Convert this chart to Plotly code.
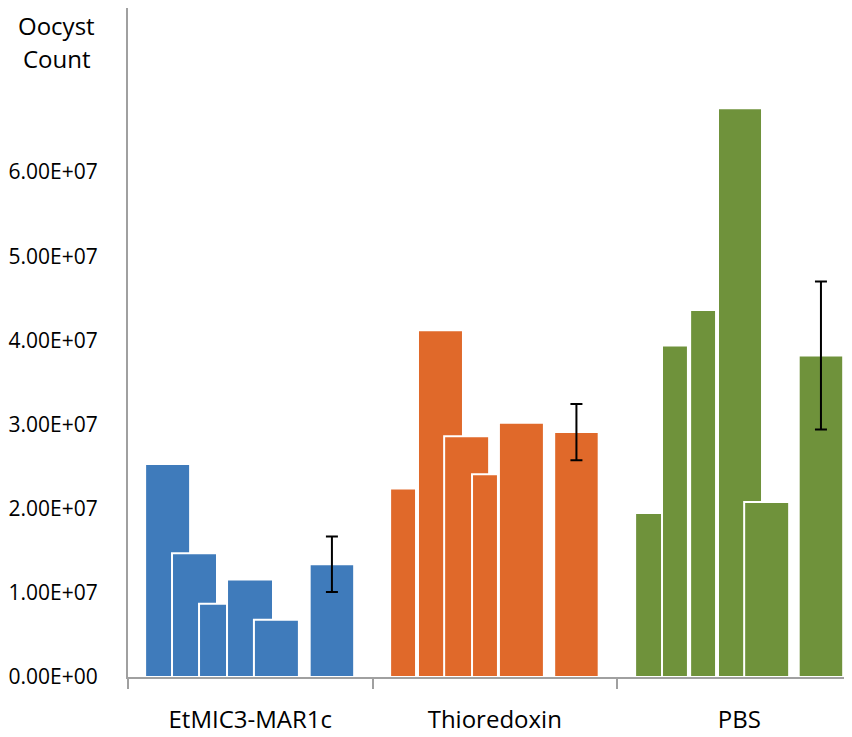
import plotly.graph_objects as go

# ---------------- data ----------------
categories = ["EtMIC3-MAR1c", "Thioredoxin", "PBS"]
etmic_values = [2.53e7, 1.47e7, 0.87e7, 1.16e7, 0.68e7]
thio_values = [2.24e7, 4.12e7, 2.86e7, 2.41e7, 3.02e7]
pbs_values = [1.95e7, 3.94e7, 4.36e7, 6.76e7, 2.08e7]
mean_values = [1.34e7, 2.91e7, 3.82e7]
error_values = [0.33e7, 0.335e7, 0.88e7]
y_tick_values = [0, 1e7, 2e7, 3e7, 4e7, 5e7, 6e7]
y_tick_labels = ["0.00E+00", "1.00E+07", "2.00E+07", "3.00E+07",
                 "4.00E+07", "5.00E+07", "6.00E+07"]

# ---------------- layout of bars inside each category (fraction of category) ----------------
bar_offsets = [
    [0.162, 0.272, 0.348, 0.499, 0.607],
    [0.125, 0.278, 0.385, 0.460, 0.609],
    [0.129, 0.237, 0.352, 0.503, 0.612],
]
bar_widths = [
    [0.184, 0.184, 0.115, 0.188, 0.184],
    [0.106, 0.184, 0.184, 0.106, 0.184],
    [0.110, 0.106, 0.106, 0.180, 0.184],
]
mean_offset = 0.834
mean_width = 0.182
colors = ["#3F7BBB", "#E0692A", "#6F923B"]

series = [etmic_values, thio_values, pbs_values]

fig = go.Figure()
for i, (vals, offs, wids, col) in enumerate(zip(series, bar_offsets, bar_widths, colors)):
    fig.add_trace(go.Bar(
        x=[i + o for o in offs],
        y=vals,
        width=wids,
        marker=dict(color=col, line=dict(color="white", width=2)),
        showlegend=False,
        hoverinfo="y",
    ))
    fig.add_trace(go.Bar(
        x=[i + mean_offset],
        y=[mean_values[i]],
        width=[mean_width],
        marker=dict(color=col, line=dict(color="white", width=2)),
        error_y=dict(type="data", array=[error_values[i]], color="black",
                     thickness=2, width=6, visible=True),
        showlegend=False,
        hoverinfo="y",
    ))

# page has an 8px body margin, so the figure is sized/offset to compensate
L, T, B = 120, 0, 60
W, H = 844, 729
PW, PH = W - L, H - T - B

axis_gray = "#A0A0A0"
fig.update_layout(
    width=W, height=H,
    margin=dict(l=L, r=0, t=T, b=B, autoexpand=False),
    paper_bgcolor="white", plot_bgcolor="white",
    barmode="overlay",
    font=dict(family="Open Sans", color="black"),
    xaxis=dict(
        range=[0, 2.961],
        tickmode="array",
        tickvals=[0.5, 1.5, 2.5],
        ticktext=categories,
        ticks="",
        tickfont=dict(size=24, family="Open Sans", color="black"),
        ticklabelstandoff=20,
        showline=True, linecolor=axis_gray, linewidth=2,
        showgrid=False, zeroline=False, automargin=False,
        minor=dict(tickvals=[0, 1, 2, 3], ticks="outside", ticklen=10,
                   tickcolor=axis_gray, tickwidth=2, showgrid=False),
    ),
    yaxis=dict(
        range=[0, 7.95e7],
        tickmode="array",
        tickvals=y_tick_values,
        ticktext=y_tick_labels,
        ticks="",
        tickfont=dict(size=21, family="Open Sans", color="black"),
        ticklabelstandoff=24,
        showline=True, linecolor=axis_gray, linewidth=2,
        showgrid=False, zeroline=False, automargin=False,
    ),
)

fig.add_annotation(text="Oocyst", xref="paper", yref="paper",
                   x=(56 - 8 - L) / PW, y=1 - (25 - 8) / PH,
                   xanchor="center", yanchor="middle", showarrow=False,
                   font=dict(size=24, family="Open Sans", color="black"))
fig.add_annotation(text="Count", xref="paper", yref="paper",
                   x=(57 - 8 - L) / PW, y=1 - (58 - 8) / PH,
                   xanchor="center", yanchor="middle", showarrow=False,
                   font=dict(size=24, family="Open Sans", color="black"))

fig.write_html("out.html")
